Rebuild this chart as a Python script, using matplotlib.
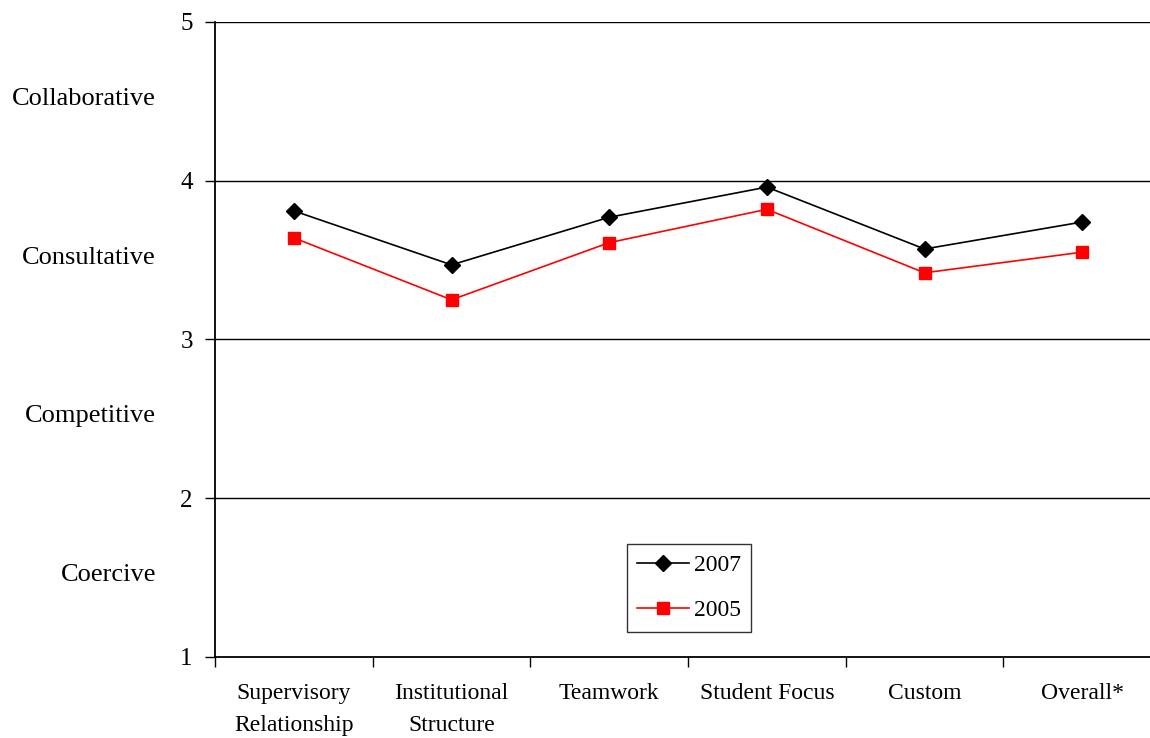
import matplotlib.pyplot as plt
import matplotlib.transforms as mtransforms
import numpy as np

plt.rcParams["font.family"] = ["Liberation Serif", "DejaVu Serif"]

categories = ["Supervisory\nRelationship", "Institutional\nStructure", "Teamwork",
              "Student Focus", "Custom", "Overall*"]
values_2007 = [3.81, 3.47, 3.77, 3.96, 3.57, 3.74]
values_2005 = [3.64, 3.25, 3.61, 3.82, 3.42, 3.55]
culture_labels = ["Coercive", "Competitive", "Consultative", "Collaborative"]
culture_levels = [1.5, 2.5, 3.5, 4.5]

fig = plt.figure(figsize=(11.5, 7.38), dpi=100)
ax = fig.add_axes([0.187, 0.1098, 0.8226, 0.8604])

x = np.arange(len(categories))
ax.plot(x, values_2007, color="black", lw=1.2, marker="D", markersize=8,
        label="2007", clip_on=False)
ax.plot(x, values_2005, color="red", lw=1.2, marker="s", markersize=8,
        label="2005", clip_on=False)

ax.set_xlim(-0.5, len(categories) - 0.5)
ax.set_ylim(1, 5)
ax.set_yticks([1, 2, 3, 4, 5])
ax.set_xticks(x)
ax.set_xticklabels(categories, fontsize=17, linespacing=1.65)
ax.set_xticks(np.arange(len(categories) + 1) - 0.5, minor=True)
ax.tick_params(axis="x", which="major", length=0, pad=19)
ax.tick_params(axis="x", which="minor", length=7, width=1, direction="out")
ax.tick_params(axis="y", length=7, width=1, direction="out", labelsize=18, pad=9)

for sp in ["top", "right"]:
    ax.spines[sp].set_visible(False)
ax.spines["left"].set_linewidth(1.3)
ax.spines["bottom"].set_linewidth(1.3)

for yv in [2, 3, 4, 5]:
    ax.axhline(yv, color="black", lw=1, zorder=0)

trans = mtransforms.blended_transform_factory(fig.transFigure, ax.transData)
trans = mtransforms.offset_copy(trans, fig=fig, y=-2.5, units="points")
for lab, lv in zip(culture_labels, culture_levels):
    ax.text(156 / 1150, lv, lab, transform=trans, ha="right", va="baseline",
            fontsize=19)

leg = ax.legend(loc="center", bbox_to_anchor=(689 / 1150, 1 - 588 / 738),
                bbox_transform=fig.transFigure, fontsize=17, frameon=True,
                fancybox=False, edgecolor="black", handlelength=2.2,
                handletextpad=0.2, borderpad=0.45, labelspacing=1.0)
leg.get_frame().set_linewidth(1)

fig.savefig("out.png", dpi=100)
